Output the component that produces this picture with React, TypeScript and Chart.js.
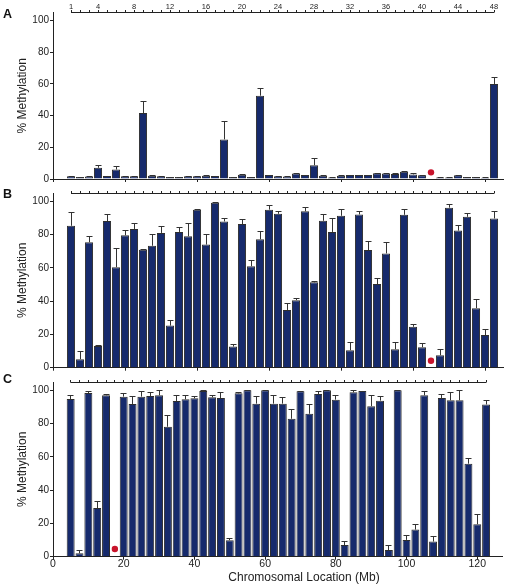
import React, { useEffect, useRef } from 'react';
import { Chart, registerables } from 'chart.js';

Chart.register(...registerables);
Chart.defaults.font.family = "'Liberation Sans', Arial, Helvetica, sans-serif";

// ---- data ----
// Bar (locus) positions along the chromosome, Mb
const POSITIONS_MB = [
  5, 7.5, 10, 12.5, 15, 17.5, 20, 22.5, 25, 27.5, 30, 32.5,
  35, 37.5, 40, 42.5, 45, 47.5, 50, 52.5, 55, 57.5, 60, 62.5,
  65, 67.5, 70, 72.5, 75, 77.5, 80, 82.5, 85, 87.5, 90, 92.5,
  95, 97.5, 100, 102.5, 105, 107.5, 110, 112.5, 115, 117.5, 120, 122.5,
];
const RULER_LABELS = [1, 4, 8, 12, 16, 20, 24, 28, 32, 36, 40, 44, 48];
const MB_TICKS = [0, 20, 40, 60, 80, 100, 120];
const Y_TICKS = [0, 20, 40, 60, 80, 100];

const A_VALUES = [
  1.7, 1.2, 1.5, 7.1, 1.9, 6.0, 1.7, 1.7, 41.6, 2.1, 1.7, 1.2,
  1.2, 1.7, 1.7, 2.1, 1.9, 25.0, 1.2, 2.7, 1.2, 52.6, 2.5, 1.7,
  1.5, 3.5, 2.5, 8.7, 2.1, 1.0, 2.1, 2.5, 2.5, 2.5, 3.7, 3.5,
  3.1, 4.6, 2.9, 2.3, null, 1.0, 1.0, 2.3, 1.2, 1.2, 0.8, 60.0,
];
const A_ERRORS = [
  0.3, 0.2, 0.3, 1.6, 0.3, 2.3, 0.3, 0.3, 7.4, 0.3, 0.2, 0.2,
  0.2, 0.2, 0.2, 0.3, 0.3, 11.6, 0.2, 0.3, 0.2, 4.6, 0.3, 0.3,
  0.2, 0.4, 0.3, 4.8, 0.3, 0.2, 0.3, 0.3, 0.3, 0.3, 0.3, 0.4,
  0.5, 0.4, 0.8, 0.3, null, 0.2, 0.2, 0.3, 0.2, 0.2, 0.3, 4.4,
];
const A_MISSING_LOCUS = 41;
const A_MISSING_VALUE = 4.2;

const B_VALUES = [
  85.3, 5.1, 75.4, 13.1, 88.1, 60.4, 79.6, 83.4, 70.9, 73.3, 81.0, 25.3,
  81.6, 79.0, 94.9, 74.0, 99.2, 87.9, 12.7, 86.3, 61.0, 77.2, 95.0, 92.5,
  34.7, 40.6, 94.0, 51.3, 88.3, 81.6, 91.3, 10.5, 92.1, 70.7, 50.3, 68.7,
  11.1, 91.9, 24.6, 12.3, null, 7.5, 96.2, 82.4, 90.7, 35.8, 19.6, 89.7,
];
const B_ERRORS = [
  8.4, 5.0, 3.8, 0.8, 4.0, 11.7, 3.0, 3.3, 0.6, 7.1, 4.1, 3.4,
  2.8, 7.7, 0.3, 6.4, 0.2, 2.0, 1.3, 3.0, 3.9, 5.2, 2.6, 1.8,
  4.1, 1.4, 2.6, 1.0, 4.2, 8.3, 4.1, 4.9, 1.9, 5.5, 3.4, 7.1,
  4.5, 3.3, 1.7, 2.7, null, 4.0, 2.0, 3.3, 2.2, 5.4, 3.4, 4.6,
];
const B_MISSING_LOCUS = 41;
const B_MISSING_VALUE = 4.2;

const C_VALUES = [
  94.8, 2.0, 98.4, 29.2, 97.0, null, 96.2, 91.8, 96.2, 96.6, 97.0, 78.1,
  93.6, 94.6, 95.2, 99.6, 95.8, 95.4, 9.9, 98.2, 100, 92.0, 100, 92.0,
  92.0, 82.9, 99.4, 85.9, 97.8, 100, 94.4, 7.0, 98.8, 99.6, 90.5, 93.8,
  4.0, 100, 10.1, 16.3, 97.0, 9.1, 95.4, 94.0, 94.0, 55.9, 19.5, 91.5,
];
const C_ERRORS = [
  2.6, 1.8, 1.0, 4.2, 0.8, null, 2.4, 4.6, 3.2, 2.4, 3.2, 7.0,
  3.8, 2.8, 1.2, 0.4, 1.6, 3.8, 1.4, 1.0, 0.2, 4.6, 0.2, 5.0,
  3.8, 5.6, 0.4, 5.6, 1.6, 0.2, 2.6, 2.5, 1.2, 0.2, 6.5, 2.8,
  3.2, 0.2, 3.0, 3.6, 2.4, 3.4, 2.4, 5.0, 6.4, 3.7, 6.3, 2.7,
];
const C_MISSING_LOCUS = 6;
const C_MISSING_VALUE = 4.6;

// ---- styles ----
const BAR_FILL = '#162a6c';
const BAR_EDGE = '#2e2e2e';
const AXIS = '#222222';
const ERR = '#333333';
const DOT = '#c8142c';
const FONT = "'Liberation Sans', Arial, Helvetica, sans-serif";

type PanelCfg = {
  letter: string;
  values: (number | null)[];
  errors: (number | null)[];
  missingLocus: number;
  missingValue: number;
  top: number;
  height: number;
  padTop: number;
  padRight: number;
  xAxisHeight: number;
  xMax: number;
  rulerLabels: boolean;
  xLabels: boolean;
  letterTop: number;
};

function Panel({ cfg }: { cfg: PanelCfg }) {
  const ref = useRef<HTMLCanvasElement | null>(null);
  useEffect(() => {
    if (!ref.current) return;

    const errorBars = {
      id: 'errorBars',
      afterDatasetsDraw(chart: any) {
        const ctx = chart.ctx;
        const meta = chart.getDatasetMeta(0);
        const ys = chart.scales.y;
        ctx.save();
        ctx.strokeStyle = ERR;
        ctx.lineWidth = 1;
        meta.data.forEach((el: any, i: number) => {
          const v = cfg.values[i];
          const e = cfg.errors[i];
          if (v == null || e == null) return;
          const x = Math.round(el.x - 0.5) + 0.5;
          const y0 = ys.getPixelForValue(v);
          const y1 = Math.round(ys.getPixelForValue(v + e)) + 0.5;
          ctx.beginPath();
          ctx.moveTo(x, y0);
          ctx.lineTo(x, y1);
          ctx.moveTo(x - 3, y1);
          ctx.lineTo(x + 3, y1);
          ctx.stroke();
        });
        ctx.restore();
      },
    };

    const ruler = {
      id: 'locusRuler',
      afterDraw(chart: any) {
        const ctx = chart.ctx;
        const xs = chart.scales.x;
        const yLine = Math.round(chart.chartArea.top - 0.5) + 0.5;
        const px = POSITIONS_MB.map((p) => xs.getPixelForValue(p));
        ctx.save();
        ctx.strokeStyle = AXIS;
        ctx.lineWidth = 1;
        ctx.beginPath();
        ctx.moveTo(px[0], yLine);
        ctx.lineTo(px[px.length - 1], yLine);
        px.forEach((x) => {
          const xx = Math.round(x - 0.5) + 0.5;
          ctx.moveTo(xx, yLine);
          ctx.lineTo(xx, yLine - 2.5);
        });
        ctx.stroke();
        if (cfg.rulerLabels) {
          ctx.fillStyle = AXIS;
          ctx.font = `7.5px ${FONT}`;
          ctx.textAlign = 'center';
          ctx.textBaseline = 'alphabetic';
          RULER_LABELS.forEach((n) => {
            ctx.fillText(String(n), px[n - 1], yLine - 3.5);
          });
        }
        ctx.restore();
      },
    };

    const bars = POSITIONS_MB.map((x, i) => ({ x, y: cfg.values[i] }));
    const dot = [{ x: POSITIONS_MB[cfg.missingLocus - 1], y: cfg.missingValue }];

    const chart = new Chart(ref.current, {
      type: 'bar',
      data: {
        datasets: [
          {
            type: 'bar',
            data: bars as any,
            backgroundColor: BAR_FILL,
            borderColor: BAR_EDGE,
            borderWidth: 1,
            barPercentage: 0.9,
            categoryPercentage: 1,
            borderSkipped: 'start',
          },
          {
            type: 'scatter',
            data: dot as any,
            pointRadius: 3.2,
            backgroundColor: DOT,
            borderWidth: 0,
          } as any,
        ],
      },
      options: {
        responsive: false,
        animation: false,
        devicePixelRatio: 1,
        layout: { padding: { top: cfg.padTop, right: cfg.padRight, left: 0, bottom: 0 } },
        plugins: { legend: { display: false }, tooltip: { enabled: false } },
        scales: {
          x: {
            type: 'linear',
            min: 0,
            max: cfg.xMax,
            offset: false,
            afterFit: (s: any) => { s.height = cfg.xAxisHeight; },
            afterBuildTicks: (s: any) => { s.ticks = MB_TICKS.map((v) => ({ value: v })); },
            grid: { offset: false, drawOnChartArea: false, drawTicks: true, tickLength: 3, color: AXIS, tickColor: AXIS },
            border: { display: true, color: AXIS, width: 1 },
            ticks: {
              display: cfg.xLabels,
              color: AXIS,
              padding: 0,
              maxRotation: 0,
              autoSkip: false,
              font: { size: 10.5, lineHeight: 0.9 },
            },
          },
          y: {
            min: 0,
            max: 105,
            afterFit: (s: any) => { s.width = 53; },
            afterBuildTicks: (s: any) => { s.ticks = Y_TICKS.map((v) => ({ value: v })); },
            grid: { drawOnChartArea: false, drawTicks: true, tickLength: 3, color: AXIS, tickColor: AXIS },
            border: { display: true, color: AXIS, width: 1 },
            ticks: { color: AXIS, padding: 1, font: { size: 10 } },
            title: {
              display: true,
              text: '% Methylation',
              color: AXIS,
              font: { size: 12 },
              padding: { top: 15.3, bottom: 0 },
            },
          },
        },
      },
      plugins: [errorBars, ruler],
    } as any);
    return () => chart.destroy();
  }, [cfg]);

  return (
    <>
      <canvas
        ref={ref}
        width={507}
        height={cfg.height}
        style={{ position: 'absolute', left: 0, top: cfg.top, width: 507, height: cfg.height }}
      />
      <div
        style={{
          position: 'absolute',
          left: 3,
          top: cfg.letterTop,
          fontFamily: FONT,
          fontWeight: 'bold',
          fontSize: 12.5,
          lineHeight: 1,
          color: '#111',
        }}
      >
        {cfg.letter}
      </div>
    </>
  );
}

const PANELS: PanelCfg[] = [
  {
    letter: 'A', values: A_VALUES, errors: A_ERRORS,
    missingLocus: A_MISSING_LOCUS, missingValue: A_MISSING_VALUE,
    top: 0, height: 186, padTop: 12.7, padRight: 4, xAxisHeight: 5, xMax: 125,
    rulerLabels: true, xLabels: false, letterTop: 8.4,
  },
  {
    letter: 'B', values: B_VALUES, errors: B_ERRORS,
    missingLocus: B_MISSING_LOCUS, missingValue: B_MISSING_VALUE,
    top: 186, height: 189, padTop: 5.3, padRight: 4, xAxisHeight: 7.3, xMax: 125,
    rulerLabels: false, xLabels: false, letterTop: 187.7,
  },
  {
    letter: 'C', values: C_VALUES, errors: C_ERRORS,
    missingLocus: C_MISSING_LOCUS, missingValue: C_MISSING_VALUE,
    top: 375, height: 211, padTop: 5.3, padRight: 5, xAxisHeight: 29.3, xMax: 127,
    rulerLabels: false, xLabels: true, letterTop: 373.4,
  },
];

export default function App() {
  return (
    <div style={{ position: 'absolute', left: 0, top: 0, width: 507, height: 586, background: '#fff', overflow: 'hidden' }}>
      {PANELS.map((p) => (
        <Panel key={p.letter} cfg={p} />
      ))}
      <div
        style={{
          position: 'absolute',
          left: 304,
          top: 571,
          transform: 'translateX(-50%)',
          whiteSpace: 'nowrap',
          fontFamily: FONT,
          fontSize: 12,
          lineHeight: 1,
          color: '#222',
        }}
      >
        Chromosomal Location (Mb)
      </div>
    </div>
  );
}
